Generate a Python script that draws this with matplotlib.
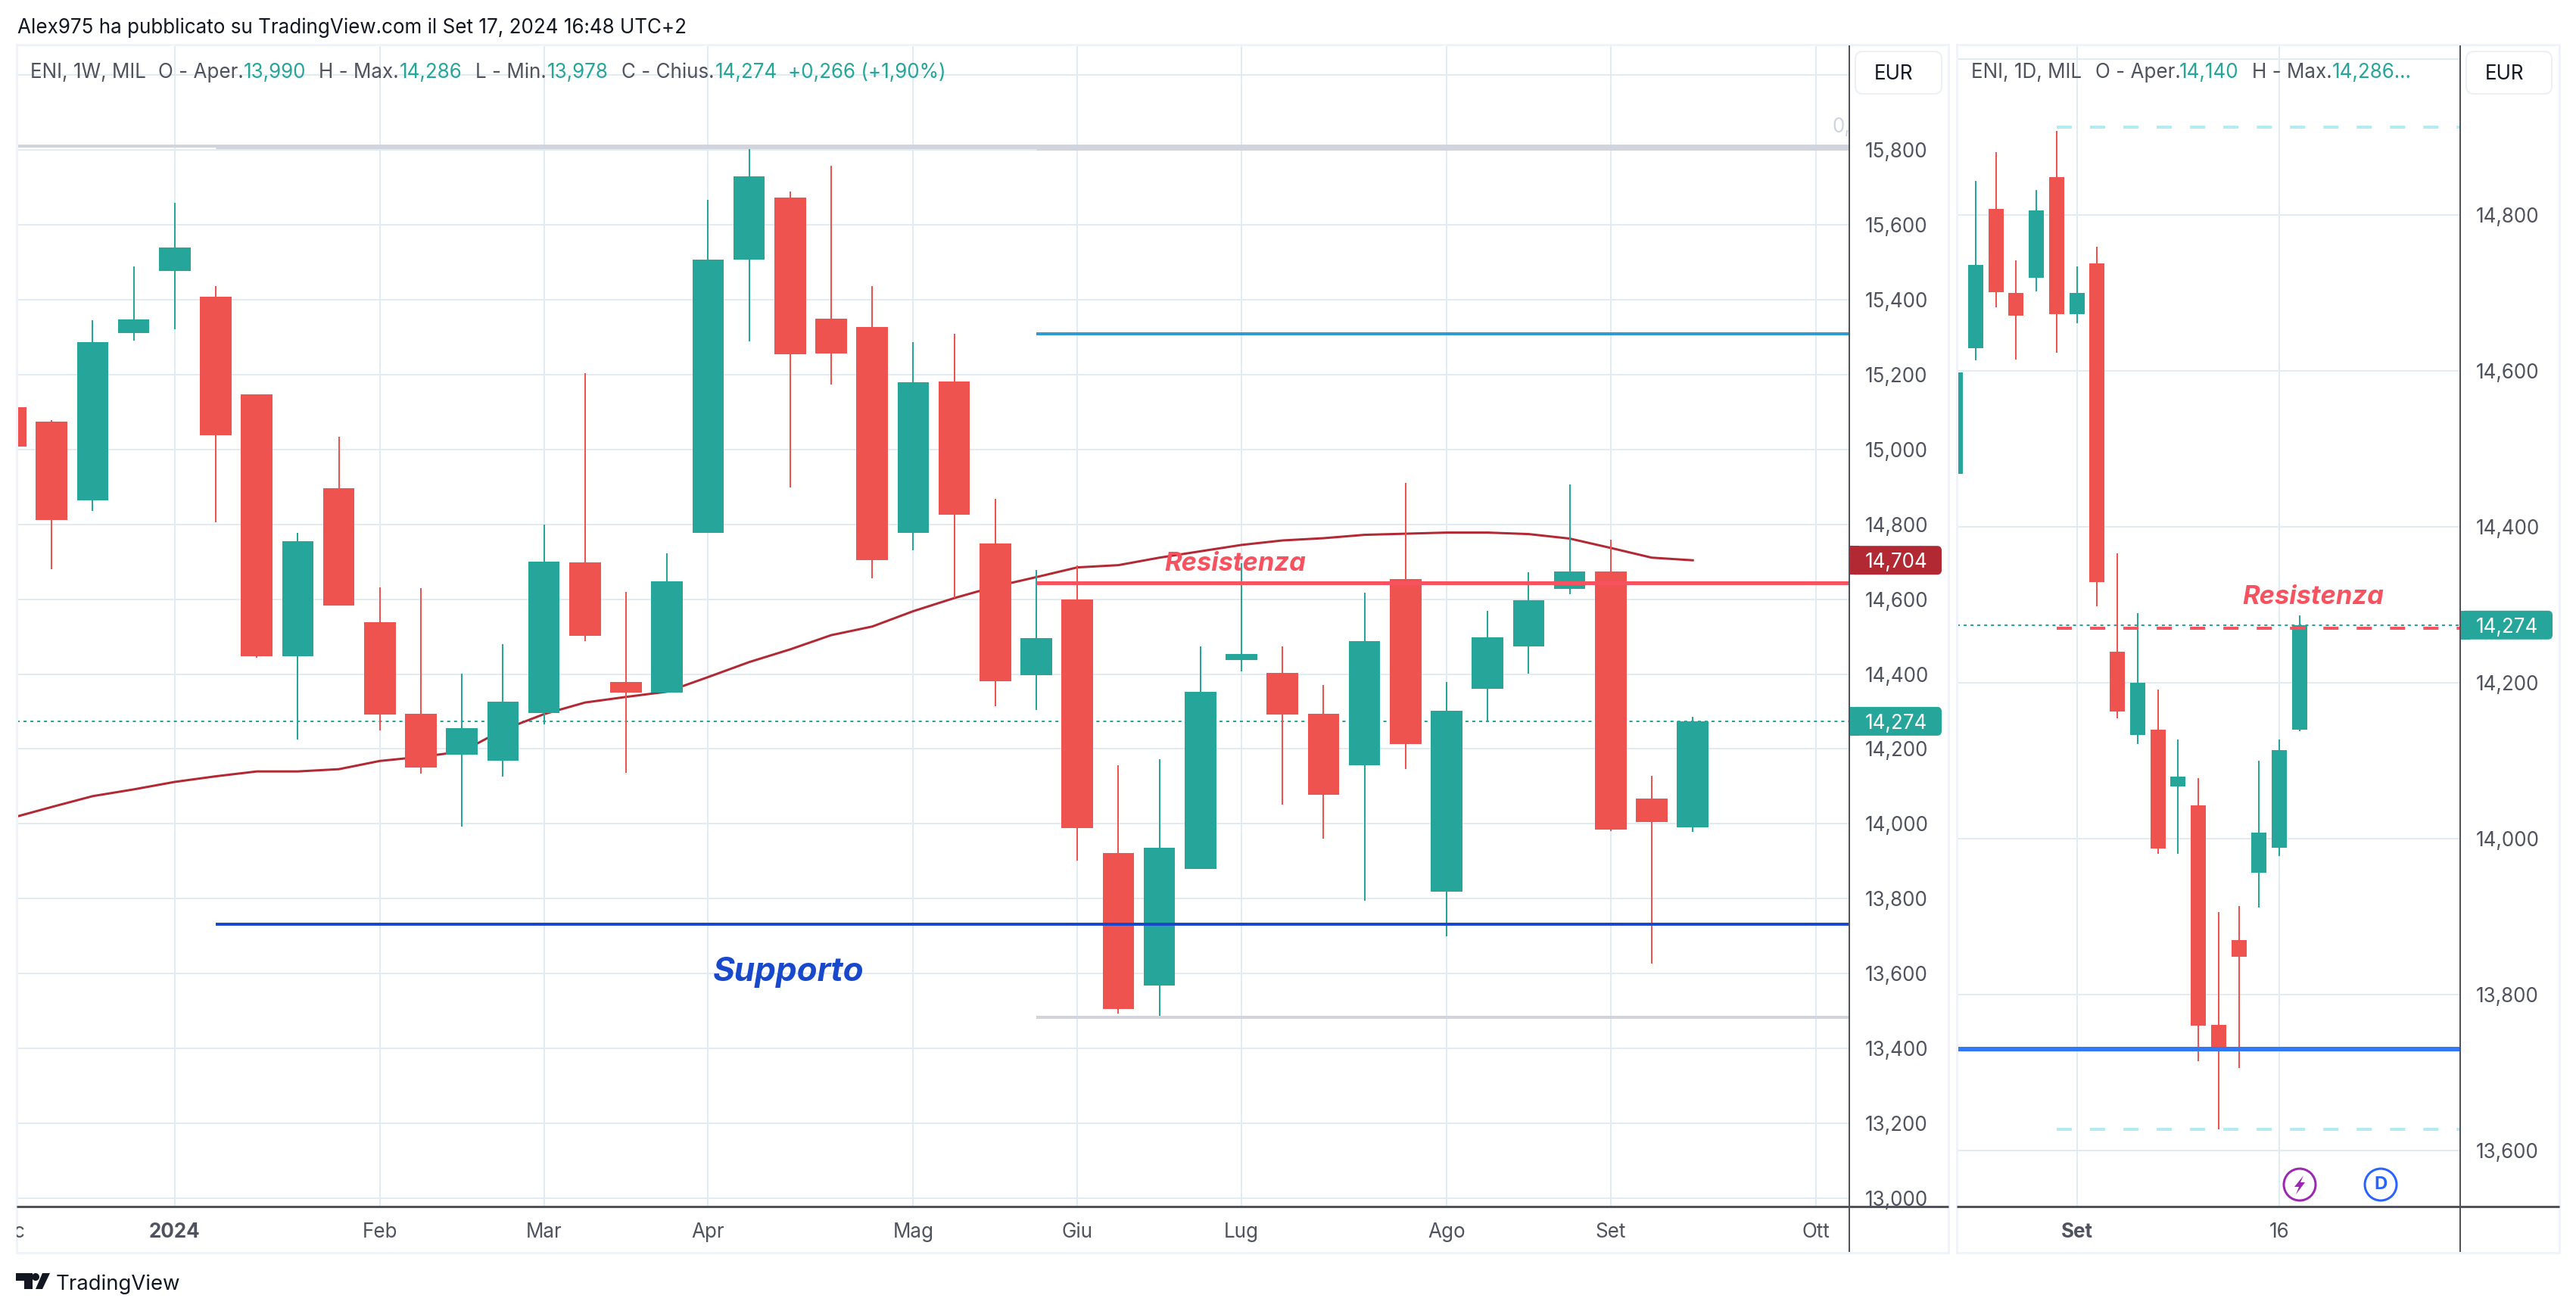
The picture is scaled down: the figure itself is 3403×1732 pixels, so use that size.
import matplotlib
matplotlib.use('Agg')
import matplotlib.pyplot as plt
import numpy as np
from matplotlib.patches import Rectangle, FancyBboxPatch, Polygon, Circle
from matplotlib.transforms import Bbox

plt.rcParams['font.family'] = ['Inter', 'DejaVu Sans']
plt.rcParams['lines.scale_dashes'] = False
plt.rcParams['ytick.alignment'] = 'center_baseline'

W, H = 3403, 1732
PX = 0.72  # punti per pixel a dpi 100

VERDE = '#26a69a'
ROSSO = '#ef5350'
GRID = '#e1ecf2'
TXT = '#50535e'
DARK = '#131722'
BORDO = '#f0f3fa'
ROSA = '#f7525f'
GRIGIO = '#d1d4dc'

## Candele settimanali
w_open = [15.112, 15.074, 14.864, 15.311, 15.477, 15.407, 15.148, 14.447, 14.897, 14.538, 14.293,
          14.184, 14.168, 14.295, 14.698, 14.379, 14.350, 14.777, 15.507, 15.673, 15.349, 15.328,
          14.777, 15.181, 14.749, 14.397, 14.600, 13.922, 13.568, 13.880, 14.438, 14.404, 14.294,
          14.156, 14.654, 13.819, 14.360, 14.474, 14.628, 14.674, 14.067, 13.990]
w_high = [15.112, 15.078, 15.345, 15.488, 15.658, 15.436, 15.148, 14.777, 15.034, 14.631, 14.630,
          14.401, 14.480, 14.799, 15.203, 14.619, 14.722, 15.666, 15.804, 15.689, 15.758, 15.436,
          15.287, 15.309, 14.868, 14.678, 14.691, 14.156, 14.173, 14.474, 14.696, 14.474, 14.371,
          14.617, 14.911, 14.379, 14.569, 14.672, 14.907, 14.760, 14.128, 14.286]
w_low = [15.007, 14.680, 14.835, 15.290, 15.322, 14.805, 14.443, 14.225, 14.583, 14.249, 14.134,
         13.993, 14.126, 14.266, 14.489, 14.136, 14.350, 14.777, 15.289, 14.898, 15.173, 14.655,
         14.731, 14.603, 14.314, 14.305, 13.901, 13.494, 13.487, 13.880, 14.407, 14.052, 13.960,
         13.795, 14.147, 13.699, 14.274, 14.402, 14.614, 13.981, 13.627, 13.978]
w_close = [15.007, 14.811, 15.287, 15.347, 15.540, 15.038, 14.447, 14.755, 14.583, 14.292, 14.150,
           14.255, 14.326, 14.700, 14.502, 14.350, 14.647, 15.507, 15.729, 15.254, 15.256, 14.704,
           15.180, 14.826, 14.381, 14.497, 13.989, 13.505, 13.936, 14.353, 14.454, 14.292, 14.078,
           14.488, 14.213, 14.303, 14.499, 14.598, 14.674, 13.985, 14.004, 14.274]

## Media mobile (rossa scura)
ma_week = [14.015, 14.045, 14.074, 14.092, 14.112, 14.127, 14.140, 14.140, 14.146, 14.168, 14.179,
           14.193, 14.251, 14.293, 14.324, 14.339, 14.353, 14.392, 14.432, 14.466, 14.504, 14.527,
           14.568, 14.603, 14.634, 14.659, 14.685, 14.691, 14.711, 14.728, 14.745, 14.757, 14.763,
           14.772, 14.775, 14.778, 14.778, 14.774, 14.762, 14.737, 14.711, 14.704]

## Candele giornaliere
d_open = [14.468, 14.629, 14.808, 14.700, 14.719, 14.849, 14.673, 14.738, 14.240, 14.133, 14.140,
          14.067, 14.043, 13.761, 13.870, 13.956, 13.988, 14.140]
d_high = [14.598, 14.844, 14.881, 14.742, 14.832, 14.908, 14.734, 14.759, 14.366, 14.289, 14.191,
          14.127, 14.078, 13.906, 13.914, 14.100, 14.127, 14.286]
d_low = [14.468, 14.614, 14.682, 14.615, 14.702, 14.623, 14.661, 14.298, 14.154, 14.121, 13.981,
         13.981, 13.715, 13.627, 13.706, 13.912, 13.978, 14.138]
d_close = [14.598, 14.736, 14.701, 14.671, 14.806, 14.673, 14.700, 14.329, 14.163, 14.200, 13.987,
           14.080, 13.760, 13.730, 13.849, 14.008, 14.114, 14.274]

## Assi
w_prices = [13.0, 13.2, 13.4, 13.6, 13.8, 14.0, 14.2, 14.4, 14.6, 14.8, 15.0, 15.2, 15.4, 15.6, 15.8]
d_prices = [13.6, 13.8, 14.0, 14.2, 14.4, 14.6, 14.8]
w_months = ['2024', 'Feb', 'Mar', 'Apr', 'Mag', 'Giu', 'Lug', 'Ago', 'Set', 'Ott']
w_month_idx = [4, 9, 13, 17, 22, 26, 30, 35, 39, 44]
d_days = ['Set', '16']
d_day_idx = [6, 16]

## Livelli orizzontali
last_price = 14.274
ma_last = 14.704
w_top = [15.810, 15.809, 15.807]
w_top_start = [0, 5, 25]
w_top_lw = [4, 5, 7]
w_blue = 15.309
w_res = 14.644
w_sup = 13.732
w_bot = 13.483
d_top = 14.913
d_bot = 13.627
d_res = 14.270
d_sup = 13.730


def pane(l, t, r, b, x0, dx, y_ref_px, y_ref, y_scale):
    ax = fig.add_axes([l / W, 1 - b / H, (r - l) / W, (b - t) / H])
    ax.set_xlim((l - x0) / dx, (r - x0) / dx)
    ax.set_ylim(y_ref + (y_ref_px - b) / y_scale, y_ref + (y_ref_px - t) / y_scale)
    for s in ax.spines.values():
        s.set_visible(False)
    ax.set_axisbelow(True)
    ax.grid(True, color=GRID, lw=2 * PX)
    ax.yaxis.tick_right()
    ax.tick_params(length=0, labelcolor=TXT, labelsize=26 * PX)
    ax.tick_params(axis='y', pad=21 * PX)
    ax.tick_params(axis='x', pad=21 * PX)
    return ax


def candles(ax, o, h, l, c, width):
    o, h, l, c = map(np.array, (o, h, l, c))
    x = np.arange(len(o))
    col = np.where(c >= o, VERDE, ROSSO)
    wicks = ax.vlines(x, l, h, colors=col, lw=2 * PX, zorder=2)
    wicks.set_snap(True)
    ax.bar(x, np.abs(c - o), bottom=np.minimum(o, c), width=width, color=col, lw=0, zorder=2.5)


def price_tag(ax, ov, value, color, left, right):
    y = H - ax.transData.transform((0, value))[1]
    ov.add_patch(FancyBboxPatch((left + 4, y - 15), right - left - 8, 30, boxstyle='round,pad=4,rounding_size=6',
                                fc=color, ec='none', zorder=5))
    ov.add_patch(Rectangle((left, y - 19), 12, 38, fc=color, ec='none', zorder=5))
    ov.text(left + 20, y, f'{value:.3f}'.replace('.', ','), color='white', fontsize=26 * PX,
            va='center_baseline', ha='left', zorder=6)


def eur_box(ov, left, right):
    ov.add_patch(FancyBboxPatch((left + 8, 76), right - left - 16, 40, boxstyle='round,pad=8,rounding_size=10',
                                fc='white', ec='#eceff4', lw=2 * PX, zorder=4))
    ov.text((left + right) / 2 - 6, 105, 'EUR', color=DARK, fontsize=26 * PX, ha='center', va='baseline', zorder=5)


fig = plt.figure(figsize=(W / 100, H / 100), dpi=100, facecolor='white')

######## Grafico settimanale
ax1 = pane(22, 60, 2443, 1594, 14, 54.2, 1583, 13.0, 494.6)
xmax1 = ax1.get_xlim()[1]
ax1.set_yticks(w_prices + [16.0])
ax1.set_yticklabels([f'{v:.3f}'.replace('.', ',') for v in w_prices] + [''])
ax1.set_xticks(w_month_idx)
ax1.set_xticklabels(w_months)
ax1.get_xticklabels()[0].set_fontweight('bold')

ax1.plot([ax1.get_xlim()[0], xmax1], [last_price, last_price], color=VERDE, lw=2 * PX, ls=(0, (2.9, 3.6)), zorder=1)
ax1.plot(np.arange(len(ma_week)), ma_week, color='#b22833', lw=3 * PX, zorder=1.5)
candles(ax1, w_open, w_high, w_low, w_close, 0.766)

for v, s, lw in zip(w_top, w_top_start, w_top_lw):
    ax1.hlines(v, s if s else ax1.get_xlim()[0], xmax1, color=GRIGIO, lw=lw * PX, zorder=3)
ax1.hlines(w_blue, 25, xmax1, color='#2e9bd2', lw=4 * PX, zorder=3)
ax1.hlines(w_res, 25, xmax1, color=ROSA, lw=5 * PX, zorder=3)
ax1.hlines(w_sup, 5, xmax1, color='#1848cc', lw=4 * PX, zorder=3)
ax1.hlines(w_bot, 25, xmax1, color=GRIGIO, lw=4 * PX, zorder=3)

ax1.text(29.85, 14.676, 'Resistenza', color=ROSA, fontsize=34.5 * PX, fontweight='bold', fontstyle='italic',
         ha='center', va='baseline', zorder=4)
ax1.text(18.95, 13.603, 'Supporto', color='#1848cc', fontsize=44 * PX, fontweight='bold', fontstyle='italic',
         ha='center', va='center', zorder=4)

######## Grafico giornaliero
ax2 = pane(2585, 60, 3250, 1594, 2583, 26.76, 1520, 13.6, 1030.0)
xmax2 = ax2.get_xlim()[1]
ax2.set_yticks(d_prices + [15.0])
ax2.set_yticklabels([f'{v:.3f}'.replace('.', ',') for v in d_prices] + [''])
ax2.set_xticks(d_day_idx)
ax2.set_xticklabels(d_days)
ax2.get_xticklabels()[0].set_fontweight('bold')

ax2.plot([ax2.get_xlim()[0], xmax2], [last_price, last_price], color=VERDE, lw=2 * PX, ls=(0, (2.9, 3.6)), zorder=1)
candles(ax2, d_open, d_high, d_low, d_close, 0.747)

for v, c in zip([d_top, d_bot, d_res], ['#b2ebf2', '#b2ebf2', ROSA]):
    ax2.plot([5, xmax2], [v, v], color=c, lw=4 * PX, ls=(0, (14.4, 17.3)), dash_capstyle='butt', zorder=3)
ax2.hlines(d_sup, ax2.get_xlim()[0], xmax2, color='#3179f5', lw=6 * PX, zorder=3)
ax2.text(17.68, 14.301, 'Resistenza', color=ROSA, fontsize=34.5 * PX, fontweight='bold', fontstyle='italic',
         ha='center', va='baseline', zorder=4)

######## Cornici, legende, logo (coordinate in pixel)
ov = fig.add_axes([0, 0, 1, 1])
ov.set_xlim(0, W)
ov.set_ylim(H, 0)
ov.axis('off')

for l, r in [(22, 2574), (2585, 3381)]:
    ov.add_patch(Rectangle((l, 59), r - l, 1596, fc='none', ec=BORDO, lw=3 * PX, zorder=1))
ov.plot([22, 2574], [1594, 1594], color=TXT, lw=3 * PX, solid_capstyle='butt', zorder=2)
ov.plot([2585, 3381], [1594, 1594], color=TXT, lw=3 * PX, solid_capstyle='butt', zorder=2)
ov.plot([2443, 2443], [60, 1654], color=TXT, lw=2 * PX, solid_capstyle='butt', zorder=2)
ov.plot([3250, 3250], [60, 1654], color=TXT, lw=2 * PX, solid_capstyle='butt', zorder=2)

eur_box(ov, 2451, 2565)
eur_box(ov, 3258, 3371)

price_tag(ax1, ov, ma_last, '#b22833', 2444, 2565)
price_tag(ax1, ov, last_price, VERDE, 2444, 2565)
price_tag(ax2, ov, last_price, VERDE, 3251, 3372)

# titolo
ov.text(23, 43.5, 'Alex975 ha pubblicato su TradingView.com il Set 17, 2024 16:48 UTC+2', color=DARK,
        fontsize=26 * PX, va='baseline', ha='left')

# legenda settimanale e giornaliera
seg1 = [(40, 'ENI, 1W, MIL', TXT), (209, 'O - Aper.', TXT), (322, '13,990', VERDE), (421, 'H - Max.', TXT),
        (528, '14,286', VERDE), (628, 'L - Min.', TXT), (723, '13,978', VERDE), (821, 'C - Chius.', TXT),
        (945, '14,274', VERDE), (1041, '+0,266 (+1,90%)', VERDE)]
seg2 = [(2604, 'ENI, 1D, MIL', TXT), (2768, 'O - Aper.', TXT), (2879, '14,140', VERDE), (2975, 'H - Max.', TXT),
        (3081, '14,286...', VERDE)]
for x, s, c in seg1 + seg2:
    ov.text(x, 103, s, color=c, fontsize=26 * PX, va='baseline', ha='left')

# etichetta tagliata a sinistra
t = ov.text(14, 1635, 'Dic', color=TXT, fontsize=26 * PX, ha='center', va='baseline')
t.set_clip_on(True)
t.set_clip_box(Bbox.from_extents(22, 0, W, H))

ov.text(2421, 168, '0,', color=GRIGIO, fontsize=26 * PX, ha='left', va='center')

# icone
ov.add_patch(Circle((3038, 1565), 21, fc='white', ec='#9c27b0', lw=3 * PX, zorder=3))
ov.add_patch(Polygon([(3043, 1553), (3031, 1568), (3037, 1568), (3033, 1578), (3045, 1562), (3039, 1562)],
                     fc='#9c27b0', ec='none', zorder=4))
ov.add_patch(Circle((3145, 1565), 21, fc='white', ec='#2962ff', lw=3 * PX, zorder=3))
ov.text(3145, 1565, 'D', color='#2962ff', fontsize=24 * PX, fontweight='bold', ha='center', va='center', zorder=4)

# logo TradingView
ov.add_patch(Polygon([(21, 1682), (43, 1682), (43, 1703), (32, 1703), (32, 1692), (21, 1692)], fc=DARK, ec='none'))
ov.add_patch(Circle((47, 1687), 5, fc=DARK, ec='none'))
ov.add_patch(Polygon([(56, 1682), (66, 1682), (56, 1703), (47, 1703)], fc=DARK, ec='none'))
ov.text(74, 1704, 'TradingView', color=DARK, fontsize=27.5 * PX, ha='left', va='baseline')

fig.savefig('out.png', dpi=100)
